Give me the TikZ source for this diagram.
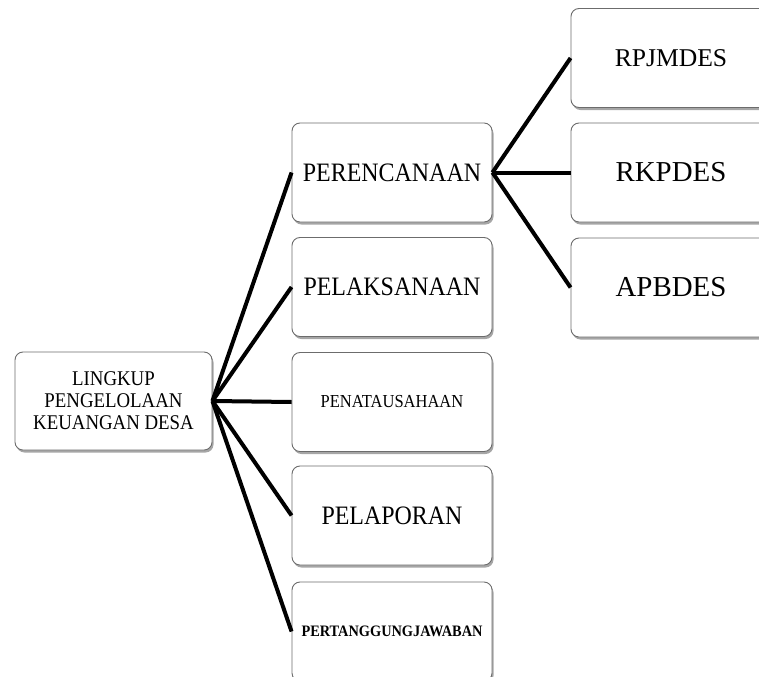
\documentclass[tikz,border=0pt]{standalone}
\usepackage{fontspec}
\setmainfont{Liberation Serif}
\newfontfamily\narrowserif{Liberation Serif}[FakeStretch=0.9]
\usetikzlibrary{shadows}
\tikzset{
  box/.style={draw=gray!85!black, line width=0.9pt, rounded corners=8pt, fill=white,
    inner sep=0pt, minimum width=200bp, minimum height=99bp, align=center,
    drop shadow={shadow xshift=1.5bp, shadow yshift=-2.5bp, opacity=0.35, fill=black}},
  link/.style={line width=4bp, black}
}
\begin{document}
\begin{tikzpicture}[x=1bp, y=-1bp]
\useasboundingbox (0,0) rectangle (759,677);
\clip (0,0) rectangle (759,677);
\node[box, minimum width=197bp, minimum height=98bp, font=\narrowserif\fontsize{21}{22}\selectfont] (root) at (113.5,401) {LINGKUP\\PENGELOLAAN\\KEUANGAN DESA};
\node[box, font=\narrowserif\fontsize{26.7}{30}\selectfont] (pr) at (392,172.5) {PERENCANAAN};
\node[box, font=\narrowserif\fontsize{26.7}{30}\selectfont] (pl) at (392,287) {PELAKSANAAN};
\node[box, font=\narrowserif\fontsize{18.4}{22}\selectfont] (pt) at (392,402) {PENATAUSAHAAN};
\node[box, font=\narrowserif\fontsize{26.7}{30}\selectfont] (lp) at (392,515.5) {PELAPORAN};
\node[box, font=\narrowserif\bfseries\fontsize{16}{19}\selectfont] (pj) at (392,631.5) {PERTANGGUNGJAWABAN};
\node[box, font=\fontsize{25.7}{30}\selectfont] (r1) at (671,58) {RPJMDES};
\node[box, font=\fontsize{29}{34}\selectfont] (r2) at (671,172.5) {RKPDES};
\node[box, font=\fontsize{29}{34}\selectfont] (r3) at (671,287.5) {APBDES};
\foreach \n in {pr,pl,pt,lp,pj} \draw[link] (root.east) -- (\n.west);
\foreach \n in {r1,r2,r3} \draw[link] (pr.east) -- (\n.west);
\end{tikzpicture}
\end{document}
